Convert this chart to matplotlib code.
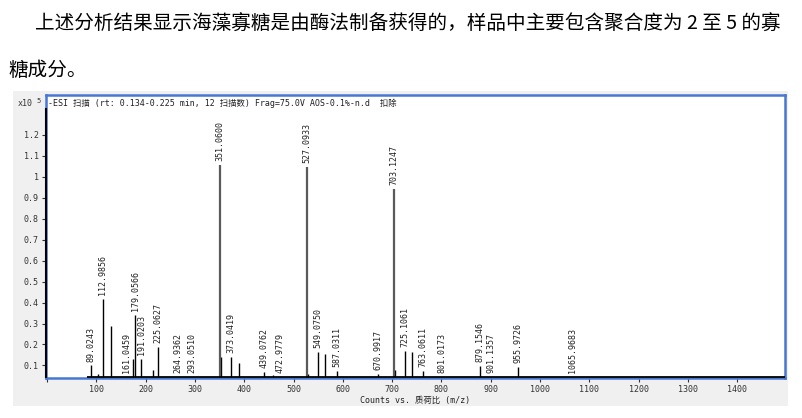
import matplotlib.pyplot as plt

# 标注的峰 (m/z 文本, 强度 x10^5)
peak_labels = ['89.0243', '112.9856', '161.0459', '179.0566', '191.0203', '225.0627',
               '264.9362', '293.0510', '351.0600', '373.0419', '439.0762', '472.9779',
               '527.0933', '549.0750', '587.0311', '670.9917', '703.1247', '725.1061',
               '763.0611', '801.0173', '879.1546', '901.1357', '955.9726', '1065.9683']
peak_heights = [0.100, 0.418, 0.045, 0.339, 0.132, 0.190,
                0.045, 0.045, 1.055, 0.141, 0.071, 0.045,
                1.046, 0.164, 0.073, 0.060, 0.942, 0.170,
                0.073, 0.045, 0.099, 0.045, 0.094, 0.045]
main_peaks = ['351.0600', '527.0933', '703.1247']

# 未标注的小峰
minor_mz = [103.8, 128.9, 174.5, 214.7, 353.0, 388.6, 457.6, 529.0, 564.5, 705.0, 740.4]
minor_heights = [0.059, 0.290, 0.133, 0.078, 0.141, 0.114, 0.054, 0.060, 0.154, 0.080, 0.162]

x_ticks = list(range(0, 1500, 100))
x_ticklabels = [''] + [str(v) for v in x_ticks[1:]]
y_ticks = [0.1, 0.2, 0.3, 0.4, 0.5, 0.6, 0.7, 0.8, 0.9, 1.0, 1.1, 1.2]
y_ticklabels = ['0.1', '0.2', '0.3', '0.4', '0.5', '0.6', '0.7', '0.8', '0.9', '1', '1.1', '1.2']

mono = ['DejaVu Sans Mono', 'Noto Sans CJK SC']
plt.rcParams['font.family'] = ['Noto Sans CJK SC', 'DejaVu Sans']

fig = plt.figure(figsize=(8.02, 4.18), dpi=100)
fig.patch.set_facecolor('white')

# 正文
fig.text(35 / 802, 1 - 24 / 418, '上述分析结果显示海藻寡糖是由酶法制备获得的，样品中主要包含聚合度为 2 至 5 的寡',
         fontsize=14.1, va='center', ha='left', color='black')
fig.text(8 / 802, 1 - 70 / 418, '糖成分。', fontsize=14.1, va='center', ha='left', color='black')

# 灰色底板
bg = fig.add_axes([13 / 802, 12 / 418, 775 / 802, 315 / 418])
bg.set_facecolor('#f0f0f0')
bg.set_xticks([])
bg.set_yticks([])
for s in bg.spines.values():
    s.set_visible(False)

ax = fig.add_axes([45.7 / 802, 40.3 / 418, 739.3 / 802, 283 / 418])
ax.set_facecolor('white')
xmin, xmax = -3, 1497
ymin, ymax = 0.0415, 1.392
ax.set_xlim(xmin, xmax)
ax.set_ylim(ymin, ymax)

for s in ax.spines.values():
    s.set_color('#4677d2')
    s.set_linewidth(1.8)

# 基线
ax.hlines(ymin + 0.004, 80, xmax, color='black', lw=1.3, zorder=3)
ax.vlines(xmin + 1, ymin, 1.33, color='black', lw=1.5, zorder=3, clip_on=False)

ax.vlines(minor_mz, 0, minor_heights, color='black', lw=1.0, zorder=2)
for lab, h in zip(peak_labels, peak_heights):
    mz = float(lab)
    if lab in main_peaks:
        ax.vlines(mz, 0, h, color='#5a5a5a', lw=1.6, zorder=2)
    else:
        ax.vlines(mz, 0, h, color='black', lw=1.0, zorder=2)
    ax.annotate(lab, xy=(mz, h), xytext=(0, 2.8), textcoords='offset points',
                rotation=90, ha='center', va='bottom', fontsize=6,
                family=mono, color='#222222')

ax.set_xticks(x_ticks)
ax.set_xticklabels(x_ticklabels, family=mono, fontsize=6, color='#333333')
ax.set_yticks(y_ticks)
ax.set_yticklabels(y_ticklabels, family=mono, fontsize=6, color='#333333')
ax.tick_params(axis='both', direction='out', length=3, width=0.8, color='#333333', pad=2)

ax.text(xmin + 2.5 / 739.3 * (xmax - xmin), ymax - (103 - 94.7) / 283 * (ymax - ymin),
        '-ESI 扫描 (rt: 0.134-0.225 min, 12 扫描数) Frag=75.0V AOS-0.1%-n.d  扣除',
        fontsize=6, family=mono, va='center', ha='left', color='#222222')

fig.text(18 / 802, 1 - 104 / 418, 'x10', fontsize=6, family=mono, va='center', ha='left', color='#333333')
fig.text(36.5 / 802, 1 - 101 / 418, '5', fontsize=5, family=mono, va='center', ha='left', color='#333333')

fig.text(415 / 802, 1 - 400 / 418, 'Counts vs. 质荷比 (m/z)', fontsize=6, family=mono,
         va='center', ha='center', color='#222222')

fig.savefig('out.png', dpi=100)
